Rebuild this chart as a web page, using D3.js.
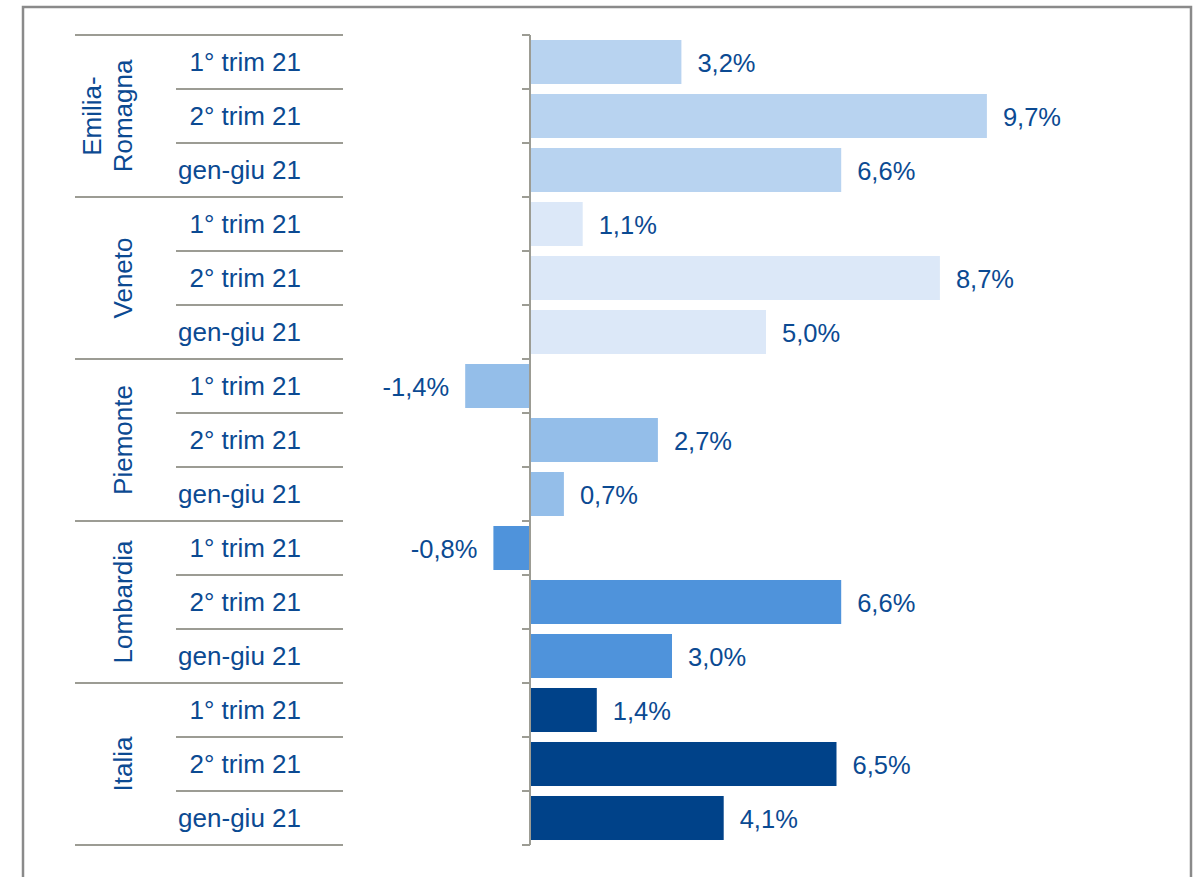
<!DOCTYPE html>
<html><head><meta charset="utf-8">
<script src="https://cdn.jsdelivr.net/npm/d3@7"></script>
<style>body{margin:0;background:#fff}svg{display:block}text{font-family:"Liberation Sans",Arial,sans-serif;fill:#0B4A92}</style>
</head><body><svg id="c" width="1199" height="877"></svg>
<script>
const groups = ["Emilia-Romagna","Veneto","Piemonte","Lombardia","Italia"];
const groupLines = [["Emilia-","Romagna"],["Veneto"],["Piemonte"],["Lombardia"],["Italia"]];
const periods = ["1° trim 21","2° trim 21","gen-giu 21"];
const values = [[3.2,9.7,6.6],[1.1,8.7,5.0],[-1.4,2.7,0.7],[-0.8,6.6,3.0],[1.4,6.5,4.1]];
const colors = ["#B8D3F0","#DCE8F8","#94BEE9","#4F93DB","#004289"];

(function(){
const rows = [];
groups.forEach((g,gi)=>periods.forEach((p,pi)=>rows.push({g,gi,p,v:values[gi][pi],id:gi+"_"+pi})));

const svg = d3.select("#c");
svg.append("path").attr("d","M23,880 V7 H1191 V880").attr("fill","none").attr("stroke","#8a8a8a").attr("stroke-width",2.5);

const y0=35, y1=845;
const y = d3.scaleBand().domain(rows.map(r=>r.id)).range([y0,y1]).paddingInner(0.185).paddingOuter(0.0925);
const yStep = (y1-y0)/rows.length;
const x = d3.scaleLinear().domain([0,10]).range([531,531+470]);
const fmt = v => d3.format(".1f")(v).replace(".",",").replace("−","-")+"%";

svg.selectAll("rect.bar").data(rows).join("rect")
  .attr("x",d=>x(Math.min(0,d.v))).attr("width",d=>Math.abs(x(d.v)-x(0)))
  .attr("y",d=>y(d.id)).attr("height",y.bandwidth()).attr("fill",d=>colors[d.gi]);

const lineCol="#9c9c94";
svg.append("line").attr("x1",530).attr("x2",530).attr("y1",y0).attr("y2",y1).attr("stroke",lineCol).attr("stroke-width",2);
d3.range(rows.length+1).forEach(i=>{
  svg.append("line").attr("x1",522).attr("x2",530).attr("y1",y0+i*yStep).attr("y2",y0+i*yStep).attr("stroke",lineCol).attr("stroke-width",2);
});

svg.selectAll("text.val").data(rows).join("text")
  .attr("x",d=>d.v>=0?x(d.v)+16:x(d.v)-16)
  .attr("y",d=>y(d.id)+y.bandwidth()/2+1)
  .attr("text-anchor",d=>d.v>=0?"start":"end")
  .attr("dominant-baseline","central")
  .attr("font-size",25.5).text(d=>fmt(d.v));

d3.range(rows.length+1).forEach(i=>{
  const yy=y0+i*yStep;
  const isGroup = i%3===0;
  svg.append("line").attr("x1",isGroup?75:176).attr("x2",343).attr("y1",yy).attr("y2",yy).attr("stroke",lineCol).attr("stroke-width",2);
});

svg.selectAll("text.per").data(rows).join("text")
  .attr("x",301).attr("y",(d,i)=>y0+i*yStep+yStep/2)
  .attr("text-anchor","end").attr("dominant-baseline","central")
  .attr("font-size",26).text(d=>d.p);

groupLines.forEach((lines,gi)=>{
  const cy = y0+(gi*3+1.5)*yStep;
  const n=lines.length, lh=31, cx=123;
  const t = svg.append("text").attr("transform",`translate(${cx},${cy}) rotate(-90)`)
    .attr("text-anchor","middle").attr("font-size",26);
  lines.forEach((l,li)=>{
    t.append("tspan").attr("x",0).attr("y",(li-(n-1))*lh).attr("dy","0.35em").text(l);
  });
});
})();
</script></body></html>
